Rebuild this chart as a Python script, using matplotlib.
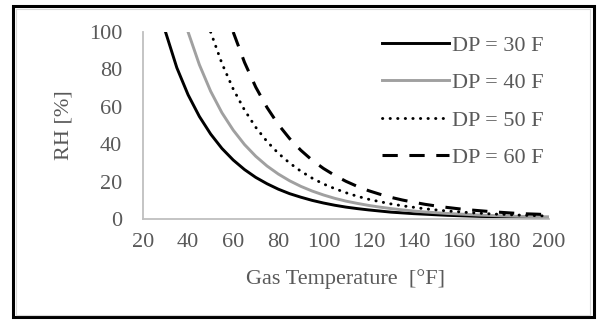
import numpy as np
import matplotlib
matplotlib.use('Agg')
import matplotlib.pyplot as plt
from matplotlib.patches import Rectangle

# gas temperature [F] and relative humidity [%]
t30 = [30, 35, 40, 45, 50, 55, 60, 65, 70, 75, 80, 85, 90, 95, 100, 105, 110, 115, 120,
       125, 130, 135, 140, 145, 150, 155, 160, 165, 170, 175, 180, 185, 190, 195, 200]
rh30 = [100, 80.9, 66.4, 54.8, 45.4, 37.7, 31.5, 26.4, 22.2, 18.8, 15.9, 13.5, 11.6, 9.9,
        8.5, 7.3, 6.3, 5.5, 4.8, 4.2, 3.6, 3.2, 2.8, 2.5, 2.2, 1.9, 1.7, 1.5, 1.3, 1.2,
        1.1, 1.0, 0.9, 0.8, 0.7]

t40 = t30[2:]
rh40 = [100, 82.5, 68.3, 56.8, 47.5, 39.8, 33.5, 28.3, 24.0, 20.4, 17.4, 14.9, 12.8, 11.0,
        9.5, 8.3, 7.2, 6.3, 5.5, 4.8, 4.2, 3.7, 3.3, 2.9, 2.6, 2.3, 2.0, 1.8, 1.6, 1.4,
        1.3, 1.2, 1.1]

t50 = t30[4:]
rh50 = [100, 83.2, 69.5, 58.3, 49.0, 41.4, 35.1, 29.9, 25.5, 21.8, 18.7, 16.2, 14.0, 12.1,
        10.5, 9.2, 8.0, 7.0, 6.2, 5.4, 4.8, 4.2, 3.8, 3.3, 3.0, 2.6, 2.4, 2.1, 1.9, 1.7, 1.5]

t60 = t30[6:]
rh60 = [100, 83.8, 70.5, 59.6, 50.5, 43.0, 36.7, 31.4, 27.0, 23.3, 20.1, 17.4, 15.1, 13.2,
        11.5, 10.1, 8.9, 7.8, 6.9, 6.1, 5.4, 4.8, 4.3, 3.8, 3.4, 3.0, 2.7, 2.5, 2.2]

plt.rcParams['font.family'] = ['Liberation Serif', 'DejaVu Serif']
grey = '#595959'
fs = 16

fig = plt.figure(figsize=(5.97, 3.2), dpi=100)
ax = fig.add_axes([0.2395, 0.316, 0.68, 0.584])

ax.plot(t30, rh30, color='black', lw=2.1, label='DP = 30 F')
ax.plot(t40, rh40, color='#a0a0a0', lw=2.1, label='DP = 40 F')
ax.plot(t50, rh50, color='black', lw=2.1, linestyle=(0, (0.1, 2.5)),
        dash_capstyle='round', label='DP = 50 F')
ax.plot(t60, rh60, color='black', lw=2.2, linestyle=(0, (5, 3.8)), label='DP = 60 F')

ax.set_xlim(20, 200)
ax.set_ylim(0, 100)
ax.set_xticks(np.arange(20, 201, 20))
ax.set_yticks(np.arange(0, 101, 20))
ax.tick_params(length=0, labelsize=fs, labelcolor=grey)
ax.tick_params(axis='y', pad=15)
ax.tick_params(axis='x', pad=10.5)
for s in ['top', 'right']:
    ax.spines[s].set_visible(False)
for s in ['left', 'bottom']:
    ax.spines[s].set_color('#bfbfbf')
    ax.spines[s].set_linewidth(1.3)

ax.set_xlabel('Gas Temperature  [°F]', fontsize=fs, color=grey, labelpad=12)
ax.set_ylabel('RH [%]', fontsize=fs, color=grey, labelpad=11)

ax.legend(loc='upper left', bbox_to_anchor=(0.589, 0.983), frameon=False, fontsize=fs,
          labelcolor=grey, handlelength=3.0, handletextpad=0.15, labelspacing=0.76,
          borderpad=0, borderaxespad=0)

fig.patches.append(Rectangle((0.021, 0.008), 0.974, 0.972, transform=fig.transFigure,
                             fill=False, edgecolor='black', lw=2.2))
fig.patches.append(Rectangle((0.027, 0.016), 0.962, 0.955, transform=fig.transFigure,
                             fill=False, edgecolor='#d9d9d9', lw=0.8))

fig.savefig('out.png', dpi=100)
